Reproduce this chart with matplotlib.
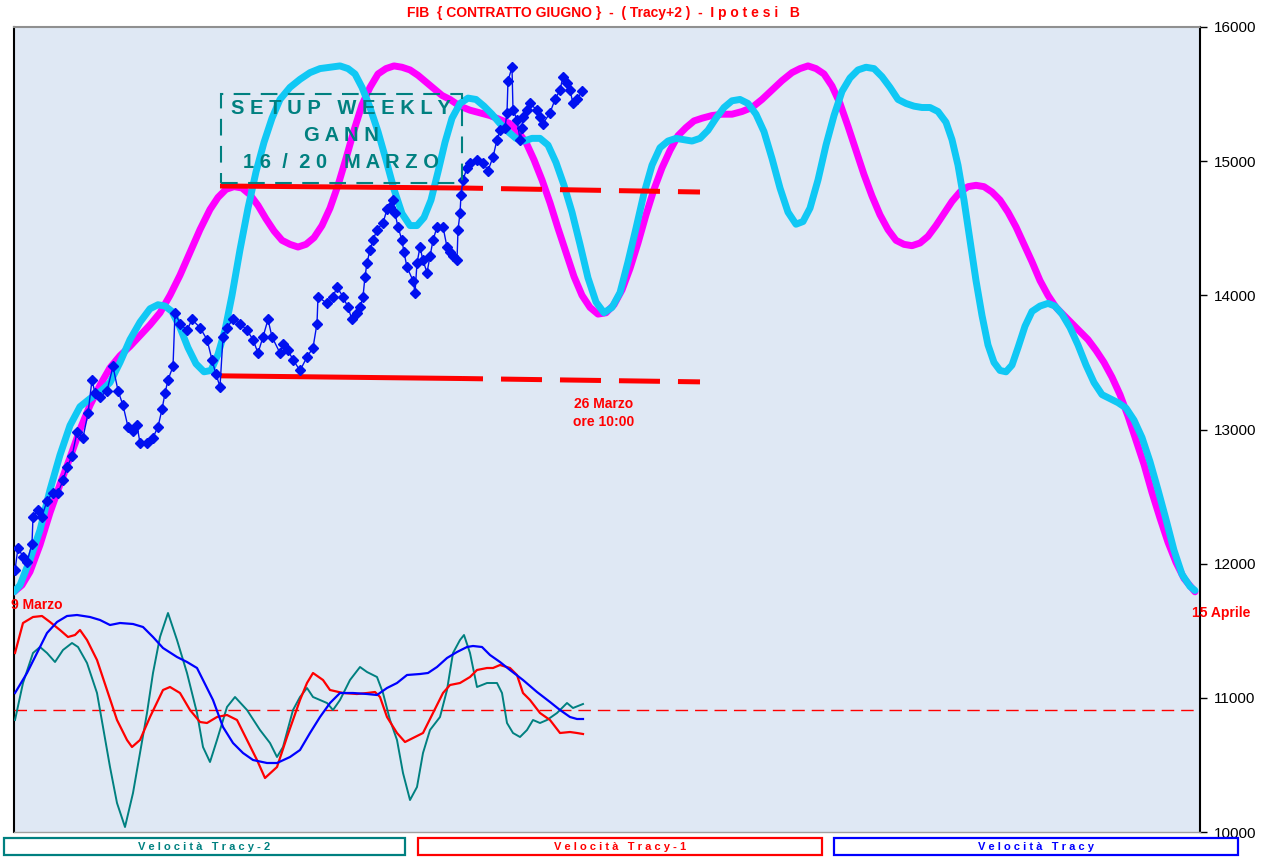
import matplotlib
matplotlib.use("Agg")
import matplotlib.pyplot as plt
from matplotlib.patches import Rectangle

plt.rcParams['font.family'] = ['Liberation Sans', 'DejaVu Sans']

# ---------------- data ----------------
title = "FIB  { CONTRATTO GIUGNO }  -  ( Tracy+2 )  -  I p o t e s i   B"
yticks = [10000, 11000, 12000, 13000, 14000, 15000, 16000]

# Tracy+2 projection (magenta)
mag_t = [14, 22, 30, 40, 50, 60, 70, 80, 90, 100,
         110, 120, 130, 140, 150, 160, 170, 180, 190, 200,
         210, 218, 226, 234, 242, 250, 258, 266, 274, 282,
         290, 298, 306, 314, 322, 330, 338, 346, 354, 362,
         370, 378, 386, 394, 402, 410, 418, 426, 434, 442,
         450, 460, 470, 480, 490, 500, 510, 518, 526, 534,
         542, 550, 558, 566, 574, 582, 590, 598, 606, 614,
         622, 630, 638, 646, 654, 662, 670, 678, 686, 694,
         702, 712, 722, 732, 742, 752, 762, 772, 782, 792,
         800, 808, 816, 824, 832, 840, 848, 856, 864, 872,
         880, 888, 896, 904, 912, 920, 928, 936, 944, 952,
         960, 968, 976, 984, 992, 1000, 1008, 1016, 1024, 1032,
         1040, 1048, 1056, 1064, 1072, 1080, 1088, 1096, 1104, 1112,
         1120, 1128, 1136, 1144, 1152, 1160, 1168, 1176, 1184, 1195]
mag_v = [11790, 11840, 11940, 12140, 12380, 12590, 12790, 13000, 13180, 13330,
         13460, 13550, 13620, 13700, 13780, 13870, 14000, 14150, 14320, 14490,
         14640, 14730, 14790, 14810, 14800, 14750, 14670, 14570, 14480, 14410,
         14380, 14360, 14380, 14430, 14520, 14650, 14820, 15020, 15230, 15420,
         15550, 15650, 15690, 15710, 15700, 15680, 15640, 15590, 15540, 15490,
         15460, 15410, 15380, 15360, 15340, 15310, 15280, 15220, 15140, 15010,
         14860, 14690, 14500, 14320, 14140, 14000, 13910, 13860, 13870, 13930,
         14040, 14200, 14390, 14600, 14790, 14950, 15080, 15190, 15250, 15300,
         15320, 15340, 15350, 15350, 15370, 15400, 15460, 15530, 15600, 15660,
         15690, 15710, 15690, 15650, 15560, 15430, 15260, 15080, 14900, 14740,
         14600, 14490, 14410, 14380, 14370, 14390, 14440, 14520, 14610, 14700,
         14770, 14810, 14820, 14810, 14770, 14710, 14620, 14510, 14380, 14250,
         14110, 14000, 13910, 13850, 13790, 13730, 13670, 13590, 13500, 13390,
         13260, 13100, 12920, 12740, 12530, 12340, 12160, 12010, 11890, 11790]

# second projection (cyan)
cya_t = [14, 20, 30, 40, 50, 60, 70, 80, 90, 100,
         110, 120, 130, 140, 150, 158, 165, 172, 180, 188,
         196, 204, 211, 218, 225, 232, 240, 248, 256, 264,
         272, 280, 290, 300, 310, 320, 330, 340, 348, 355,
         362, 370, 378, 386, 394, 402, 410, 417, 424, 431,
         438, 445, 452, 460, 468, 476, 484, 492, 500, 508,
         516, 524, 532, 540, 548, 556, 564, 572, 580, 588,
         596, 604, 612, 620, 628, 636, 644, 652, 660, 668,
         676, 684, 692, 700, 708, 716, 724, 732, 740, 748,
         756, 764, 772, 780, 788, 796, 803, 810, 818, 826,
         834, 842, 850, 858, 866, 874, 882, 890, 898, 906,
         914, 922, 930, 938, 946, 952, 958, 964, 970, 976,
         982, 988, 994, 1000, 1006, 1012, 1018, 1025, 1032, 1040,
         1048, 1055, 1062, 1070, 1078, 1086, 1094, 1102, 1110, 1118,
         1126, 1134, 1142, 1150, 1158, 1166, 1174, 1182, 1190, 1195]
cya_v = [11790, 11840, 12030, 12250, 12550, 12810, 13030, 13170, 13230, 13280,
         13350, 13500, 13670, 13800, 13900, 13930, 13920, 13880, 13760, 13610,
         13490, 13430, 13440, 13560, 13740, 14000, 14340, 14650, 14920, 15140,
         15320, 15460, 15550, 15610, 15660, 15690, 15700, 15710, 15690, 15650,
         15550, 15400, 15220, 15010, 14790, 14610, 14520, 14520, 14580, 14710,
         14920, 15140, 15320, 15430, 15470, 15460, 15410, 15350, 15280, 15220,
         15170, 15150, 15170, 15170, 15120, 14990, 14820, 14620, 14380, 14130,
         13950, 13870, 13910, 14020, 14250, 14500, 14760, 14970, 15100, 15150,
         15170, 15160, 15150, 15170, 15230, 15320, 15400, 15450, 15460, 15430,
         15350, 15220, 15020, 14800, 14620, 14530, 14550, 14650, 14860, 15120,
         15340, 15520, 15620, 15680, 15700, 15690, 15630, 15550, 15460, 15430,
         15410, 15400, 15400, 15370, 15290, 15160, 14970, 14710, 14410, 14110,
         13850, 13630, 13500, 13440, 13430, 13480, 13610, 13770, 13880, 13920,
         13940, 13920, 13860, 13760, 13630, 13480, 13350, 13260, 13230, 13200,
         13160, 13070, 12940, 12760, 12550, 12330, 12100, 11920, 11830, 11800]

# FIB price (blue diamonds)
px_t = [15, 18, 23, 27, 32, 33, 38, 42, 47, 53, 58, 63, 67, 72, 77, 83, 88, 92, 95, 100, 107, 113,
        118, 123, 128, 133, 137, 140, 147, 153, 158, 162, 165, 168, 173, 175, 180, 187, 192, 200,
        207, 212, 216, 220, 223, 227, 233, 240, 247, 253, 258, 263, 268, 272, 280, 283, 288, 293,
        300, 307, 313, 317, 318, 327, 333, 337, 343, 348, 352, 357, 360, 363, 365, 367, 370, 373,
        377, 383, 387, 390, 393, 395, 398, 402, 404, 407, 413, 415, 417, 420, 423, 427, 430, 433,
        437, 443, 447, 450, 453, 457, 458, 460, 461, 463, 467, 470, 477, 483, 488, 493, 497, 500,
        505, 507, 508, 512, 513, 517, 520, 522, 523, 527, 530, 537, 540, 543, 550, 555, 560, 563,
        567, 570, 573, 577, 582]
px_v = [11950, 12120, 12050, 12010, 12150, 12350, 12400, 12350, 12470, 12530, 12530, 12620, 12720,
        12800, 12980, 12940, 13120, 13370, 13270, 13240, 13290, 13470, 13290, 13180, 13020, 12990,
        13030, 12900, 12900, 12940, 13020, 13150, 13270, 13370, 13470, 13870, 13790, 13740, 13820,
        13760, 13670, 13520, 13410, 13320, 13690, 13760, 13820, 13790, 13740, 13670, 13570, 13690,
        13820, 13690, 13570, 13640, 13590, 13520, 13440, 13540, 13610, 13790, 13990, 13940, 13990,
        14060, 13990, 13910, 13820, 13870, 13910, 13990, 14140, 14240, 14340, 14410, 14490, 14540,
        14640, 14660, 14710, 14610, 14510, 14410, 14320, 14210, 14110, 14020, 14240, 14360, 14260,
        14170, 14290, 14410, 14510, 14510, 14360, 14320, 14290, 14260, 14490, 14610, 14750, 14860,
        14950, 14990, 15010, 14990, 14930, 15030, 15160, 15230, 15250, 15360, 15600, 15700, 15380,
        15310, 15160, 15250, 15330, 15380, 15430, 15380, 15330, 15280, 15360, 15460, 15530, 15630,
        15580, 15530, 15430, 15460, 15520]

# support / resistance levels
lvl_t = [220, 462, 700]
lvl_upper = [14815, 14800, 14770]
lvl_lower = [13400, 13380, 13355]

# velocities (lower panel)
vel2_t = [15, 23, 33, 40, 47, 55, 63, 72, 78, 87, 97, 103, 110, 117, 125, 133, 140, 147, 153, 160,
          168, 177, 187, 197, 203, 210, 217, 227, 235, 247, 260, 270, 277, 283, 293, 300, 307, 313,
          320, 327, 333, 340, 350, 360, 367, 377, 383, 390, 397, 403, 410, 417, 423, 430, 440, 447,
          453, 460, 464, 470, 477, 487, 497, 502, 507, 513, 520, 527, 533, 540, 547, 557, 567, 573, 583]
vel2_v = [-1.0, 2.7, 5.7, 6.3, 5.7, 4.8, 6.0, 6.7, 6.3, 4.7, 1.7, -1.7, -5.7, -9.3, -11.7, -8.3,
          -4.3, -0.3, 3.7, 7.3, 9.7, 7.0, 3.7, -0.3, -3.7, -5.2, -3.0, 0.3, 1.3, 0.0, -2.0, -3.3,
          -4.7, -3.7, 0.0, 1.3, 2.2, 1.3, 1.0, 0.7, 0.0, 1.0, 3.0, 4.3, 3.8, 3.3, 1.7, -1.0, -3.0,
          -6.3, -9.0, -7.7, -4.3, -2.0, -0.7, 2.0, 5.7, 7.0, 7.5, 5.7, 2.3, 2.7, 2.7, 1.7, -1.3,
          -2.3, -2.7, -2.0, -1.0, -1.3, -1.0, -0.3, 0.7, 0.2, 0.6]

vel1_t = [15, 23, 33, 42, 50, 60, 68, 75, 80, 87, 97, 107, 117, 127, 132, 140, 150, 163, 170, 180,
          190, 200, 207, 217, 227, 237, 247, 257, 265, 277, 287, 300, 307, 313, 323, 330, 343, 357,
          367, 375, 380, 387, 397, 405, 413, 423, 433, 443, 450, 460, 470, 477, 487, 493, 500, 510,
          517, 523, 530, 540, 550, 560, 570, 577, 583]
vel1_v = [5.7, 8.7, 9.3, 9.4, 8.8, 8.0, 7.3, 7.5, 8.0, 7.0, 5.0, 2.0, -1.0, -3.0, -3.7, -3.0, -0.7,
          2.0, 2.3, 1.7, 0.0, -1.2, -1.3, -0.7, -0.5, -1.0, -3.0, -5.0, -6.8, -5.7, -2.7, 1.0, 2.7,
          3.7, 3.0, 2.0, 1.7, 1.6, 1.7, 1.8, 1.3, -0.7, -2.3, -3.2, -2.8, -2.3, -0.3, 1.7, 2.5,
          2.7, 3.3, 4.0, 4.2, 4.2, 4.5, 4.2, 3.5, 1.7, 1.0, -0.3, -1.0, -2.3, -2.2, -2.3, -2.4]

vel0_t = [15, 27, 37, 47, 57, 67, 77, 90, 100, 110, 120, 133, 143, 153, 163, 177, 187, 197, 203,
          213, 223, 233, 243, 253, 267, 277, 290, 300, 310, 320, 330, 340, 353, 367, 377, 387, 397,
          407, 420, 428, 437, 447, 457, 467, 473, 482, 490, 500, 510, 523, 537, 550, 560, 570, 577, 583]
vel0_v = [1.7, 3.7, 5.7, 7.7, 8.8, 9.4, 9.5, 9.3, 9.0, 8.5, 8.7, 8.6, 8.3, 7.3, 6.2, 5.3, 4.8, 4.2,
          3.0, 1.0, -1.7, -3.3, -4.3, -5.0, -5.3, -5.3, -4.7, -4.0, -2.3, -0.7, 0.7, 1.7, 1.7, 1.6,
          1.5, 2.2, 2.7, 3.5, 3.6, 3.7, 4.3, 5.2, 5.8, 6.3, 6.4, 6.3, 5.5, 4.8, 4.0, 3.0, 1.8, 0.8,
          0.0, -0.7, -0.9, -0.9]

legend_labels = ["V e l o c i t à   T r a c y - 2", "V e l o c i t à   T r a c y - 1", "V e l o c i t à   T r a c y"]

assert len(mag_t) == len(mag_v) and len(cya_t) == len(cya_v) and len(px_t) == len(px_v)

# ---------------- colours ----------------
MAG = '#ff00ff'
CYA = '#10c8f4'
BLUE = '#0010f0'
RED = '#ff0000'
TEAL = '#008080'
VBLUE = '#0000ff'

W, H = 1280, 859
fig = plt.figure(figsize=(W / 100, H / 100), dpi=100)
fig.patch.set_facecolor('white')

rect = [14 / W, 1 - 832 / H, 1186 / W, 805 / H]
ax = fig.add_axes(rect)
ax.set_facecolor('#dfe8f4')
ax.set_xlim(14, 1200)
ax.set_ylim(10000, 16000)
ax.set_xticks([])
ax.yaxis.tick_right()
ax.set_yticks(yticks)
ax.set_yticklabels([str(v) for v in yticks], fontsize=11)
ax.tick_params(axis='y', direction='out', length=5, width=1, pad=5, colors='black')
for s in ['left', 'right']:
    ax.spines[s].set_color('black')
    ax.spines[s].set_linewidth(1.5)
ax.spines['top'].set_color('#909090')
ax.spines['top'].set_linestyle((0, (1, 1)))
ax.spines['top'].set_linewidth(1.5)
ax.spines['bottom'].set_color('#a0a0a0')
ax.spines['bottom'].set_linewidth(1)

# projections
ax.plot(mag_t, mag_v, color=MAG, lw=5, solid_capstyle='round', solid_joinstyle='round', zorder=3)
ax.plot(cya_t, cya_v, color=CYA, lw=5, solid_capstyle='round', solid_joinstyle='round', zorder=4)

# levels: solid then dashed
for lv in (lvl_upper, lvl_lower):
    ax.plot(lvl_t[:2], lv[:2], color=RED, lw=3.6, solid_capstyle='butt', zorder=5)
    ax.plot(lvl_t[1:], lv[1:], color=RED, lw=3.6, linestyle=(4, (8.2, 3.6)),
            dash_capstyle='butt', zorder=5)

# price
ax.plot(px_t, px_v, color=BLUE, lw=1, marker='D', ms=5.2, mec=BLUE, mfc=BLUE, zorder=6)

# setup box
y_top, y_bot = 15500, 14840
ax.add_patch(Rectangle((221, y_bot), 241, y_top - y_bot, fill=False, ec=TEAL, lw=1.5,
                       linestyle=(0, (8, 5)), zorder=7))
for txt, yv in [("S E T U P   W E E K L Y", 15396), ("G A N N", 15195), ("1 6  /  2 0   M A R Z O", 14990)]:
    ax.text(341, yv, txt, color=TEAL, fontsize=14.5, fontweight='bold', ha='center', va='center', zorder=8)

# annotations
ax.text(604, 13190, "26 Marzo", color=RED, fontsize=10, fontweight='bold', ha='center', va='center', zorder=8)
ax.text(604, 13056, "ore 10:00", color=RED, fontsize=10, fontweight='bold', ha='center', va='center', zorder=8)
ax.text(11, 11692, "9 Marzo", color=RED, fontsize=10, fontweight='bold', ha='left', va='center', zorder=8)
ax.text(1192, 11632, "15 Aprile", color=RED, fontsize=10, fontweight='bold', ha='left', va='center', zorder=8)

# velocity panel (own hidden scale)
ax2 = fig.add_axes(rect, sharex=ax)
ax2.patch.set_alpha(0)
ax2.set_ylim(-12.2, 68.3)
ax2.axis('off')
ax2.axhline(0, color=RED, lw=1, dashes=(9, 5))
ax2.plot(vel2_t, vel2_v, color=TEAL, lw=1.4)
ax2.plot(vel1_t, vel1_v, color=RED, lw=1.6)
ax2.plot(vel0_t, vel0_v, color=VBLUE, lw=1.6)

# title
fig.text(603 / W, 1 - 13 / H, title, color=RED, fontsize=10, fontweight='bold', ha='center', va='center')

# legend boxes
boxes = [(4, 405, TEAL), (418, 822, RED), (834, 1238, VBLUE)]
for (x0, x1, c), lab in zip(boxes, legend_labels):
    fig.add_artist(Rectangle((x0 / W, 1 - 855 / H), (x1 - x0) / W, 17 / H, transform=fig.transFigure,
                             fill=False, ec=c, lw=1.6))
    fig.text((x0 + x1) / 2 / W, 1 - 846.5 / H, lab, color=c, fontsize=8, fontweight='bold',
             ha='center', va='center')

fig.savefig('out.png', dpi=100)
